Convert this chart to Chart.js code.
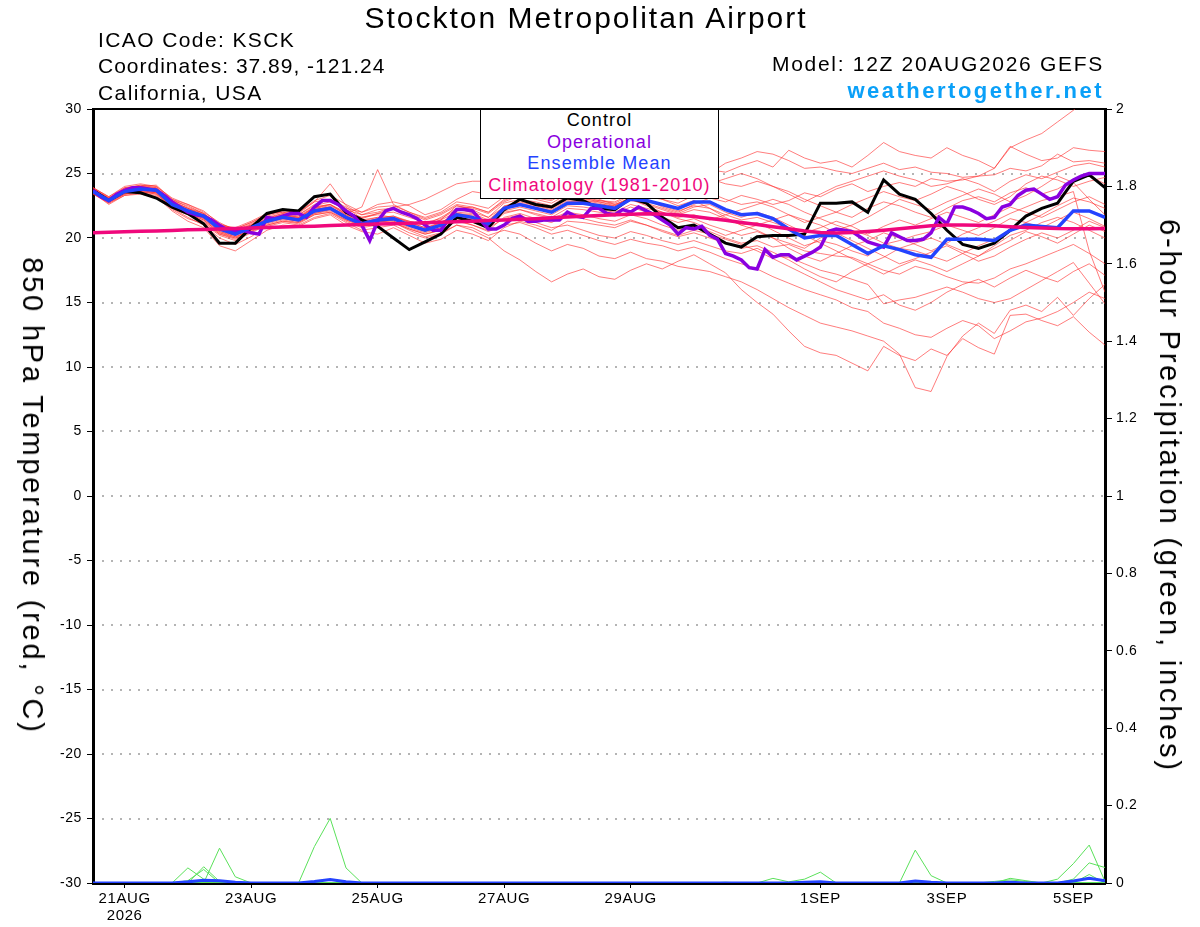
<!DOCTYPE html>
<html>
<head>
<meta charset="utf-8">
<script src="https://cdn.jsdelivr.net/npm/chart.js@4.4.1/dist/chart.umd.min.js"></script>
<style>
  body { margin: 0; background: #fff; }
  #wrap { position: relative; width: 1200px; height: 927px; font-family: "Liberation Sans", Arial, sans-serif; color: #000; overflow: hidden; }
  #c { position: absolute; left: 0; top: 0; }
  .t { position: absolute; white-space: nowrap; }
  #title { left: 586px; top: 2px; font-size: 30px; line-height: 32px; letter-spacing: 2px; transform: translateX(-50%); }
  .info { left: 98px; font-size: 21px; line-height: 24px; letter-spacing: 1.4px; }
  .rinfo { right: 96px; font-size: 21px; line-height: 24px; letter-spacing: 1.7px; text-align: right; }
  #site { color: #0aa0f8; font-weight: bold; font-size: 22px; letter-spacing: 2.5px; right: 96px; }
  #legend { position: absolute; left: 480px; top: 109px; width: 237px; height: 88px; background: #fff; border: 1px solid #000; font-size: 18px; line-height: 21.5px; letter-spacing: 1.1px; text-align: center; }
  .ytitle { font-size: 29px; line-height: 32px; letter-spacing: 2.8px; transform: translate(-50%, -50%) rotate(90deg); }
</style>
</head>
<body>
<div id="wrap">
  <canvas id="c" width="1200" height="927"></canvas>
  <div class="t" id="title">Stockton Metropolitan Airport</div>
  <div class="t info" style="top:28px">ICAO Code: KSCK</div>
  <div class="t info" style="top:54px; letter-spacing:1px">Coordinates: 37.89, -121.24</div>
  <div class="t info" style="top:81px">California, USA</div>
  <div class="t rinfo" style="top:52px">Model: 12Z 20AUG2026 GEFS</div>
  <div class="t" id="site" style="top:78px">weathertogether.net</div>
  <div id="legend">
    <div style="color:#000">Control</div>
    <div style="color:#8a00e0">Operational</div>
    <div style="color:#2443ff">Ensemble Mean</div>
    <div style="color:#f0087c">Climatology (1981-2010)</div>
  </div>
  <div class="t ytitle" style="left:33px; top:496px;">850 hPa Temperature (red, °C)</div>
  <div class="t ytitle" style="left:1170px; top:496px;">6-hour Precipitation (green, inches)</div>
</div>
<script>
// Forecast hours from 12Z 20AUG2026, 6-hourly (ensemble)
const hours = [0,6,12,18,24,30,36,42,48,54,60,66,72,78,84,90,96,102,108,114,120,126,132,138,144,150,156,162,168,174,180,186,192,198,204,210,216,222,228,234,240,246,252,258,264,270,276,282,288,294,300,306,312,318,324,330,336,342,348,354,360,366,372,378,384];
// 3-hourly hours (operational run)
const opHours = [0,3,6,9,12,15,18,21,24,27,30,33,36,39,42,45,48,51,54,57,60,63,66,69,72,75,78,81,84,87,90,93,96,99,102,105,108,111,114,117,120,123,126,129,132,135,138,141,144,147,150,153,156,159,162,165,168,171,174,177,180,183,186,189,192,195,198,201,204,207,210,213,216,219,222,225,228,231,234,237,240,243,246,249,252,255,258,261,264,267,270,273,276,279,282,285,288,291,294,297,300,303,306,309,312,315,318,321,324,327,330,333,336,339,342,345,348,351,354,357,360,363,366,369,372,375,378,381,384];

// Date ticks (hours) and their labels
const xTickHours = [12, 60, 108, 156, 204, 276, 324, 372];
const xTickLabels = [['21AUG','2026'], '23AUG', '25AUG', '27AUG', '29AUG', '1SEP', '3SEP', '5SEP'];

// 850 hPa temperature (deg C)
const controlTemp = [23.7,22.9,23.6,23.5,23.1,22.4,21.9,21.1,19.6,19.6,20.8,21.9,22.2,22.1,23.2,23.4,22.0,21.4,20.9,20.0,19.1,19.7,20.3,21.6,21.3,20.8,22.2,23.0,22.6,22.4,23.1,22.9,22.3,22.2,23.1,22.7,21.6,20.8,21.0,20.3,19.6,19.3,20.1,20.2,20.2,20.3,22.7,22.7,22.8,22.0,24.5,23.4,23.0,21.9,20.6,19.5,19.2,19.6,20.6,21.7,22.3,22.7,24.4,24.9,23.9];
const operationalTemp = [23.7,23.2,22.9,23.4,23.7,23.9,23.9,23.8,23.7,23.3,22.8,22.4,22.0,21.8,21.7,21.4,21.0,20.6,20.5,20.6,20.4,20.3,21.6,21.5,21.7,21.9,21.9,21.6,22.4,22.9,22.9,22.6,22.1,21.7,21.0,19.8,21.3,22.1,22.3,22.0,21.8,21.5,21.0,20.6,20.6,21.5,22.2,22.2,22.1,21.4,20.7,20.7,21.0,21.5,21.7,21.3,21.3,21.4,21.4,21.4,22.0,21.7,21.6,22.3,22.3,21.9,21.8,22.2,22.0,22.4,22.1,21.8,21.4,21.0,20.3,20.8,20.7,20.9,20.2,19.9,18.8,18.6,18.3,17.7,17.6,19.1,18.5,18.7,18.7,18.3,18.6,18.9,19.3,20.5,20.7,20.6,20.5,20.1,19.7,19.5,19.3,20.4,20.1,19.8,19.8,19.9,20.4,21.6,21.1,22.4,22.4,22.2,21.9,21.5,21.6,22.4,22.6,23.3,23.7,23.8,23.4,23.0,23.2,24.1,24.5,24.8,25.0,25.0,25.0];
const meanTemp = [23.6,22.9,23.6,23.8,23.7,22.6,22.1,21.7,20.7,20.3,20.8,21.3,21.6,21.4,22.1,22.3,21.6,21.1,21.4,21.5,21.0,20.6,21.0,21.8,21.6,21.1,22.3,22.6,22.3,22.0,22.7,22.7,22.5,22.3,23.0,22.9,22.6,22.3,22.8,22.8,22.2,21.8,21.9,21.5,20.7,20.0,20.2,20.2,19.5,18.8,19.4,19.1,18.7,18.5,19.9,19.9,19.9,19.8,20.6,21.0,20.9,20.8,22.1,22.1,21.6];
const climoTemp = [20.40,20.44,20.48,20.52,20.55,20.59,20.63,20.66,20.70,20.74,20.78,20.81,20.85,20.89,20.92,20.96,21.00,21.04,21.08,21.11,21.15,21.19,21.22,21.26,21.30,21.35,21.40,21.45,21.50,21.57,21.63,21.69,21.75,21.80,21.85,21.88,21.86,21.78,21.66,21.52,21.37,21.20,21.04,20.88,20.72,20.55,20.42,20.38,20.42,20.50,20.60,20.72,20.84,20.95,21.00,21.00,20.98,20.94,20.88,20.82,20.77,20.73,20.72,20.72,20.74];

// Ensemble member temperatures (deg C)
const memberTemps = [
 [23.8,23.0,23.9,24.0,24.1,23.0,22.6,22.0,21.2,20.6,21.0,21.8,22.2,21.9,22.8,23.0,22.4,21.5,21.9,22.3,21.8,21.0,21.4,22.5,22.2,21.6,22.4,23.0,22.8,22.5,23.3,23.1,22.8,22.5,23.2,23.0,22.4,22.0,22.6,23.1,22.8,23.3,23.0,22.6,22.9,23.5,23.2,23.8,24.2,23.6,24.0,24.3,24.0,24.6,24.4,24.5,24.8,25.4,27.0,27.6,28.1,29.0,29.9,31.0,32.0],
 [23.5,22.7,23.4,23.7,23.5,22.3,21.8,21.2,20.3,20.0,20.5,21.2,21.7,21.6,22.4,22.6,21.9,21.6,21.8,21.6,21.3,21.0,21.6,22.3,22.4,22.0,22.9,23.4,23.1,22.9,23.6,23.5,23.4,23.5,24.0,24.2,24.6,24.4,25.0,25.3,25.1,25.6,26.0,25.5,26.8,26.2,25.8,26.0,25.5,26.4,27.4,26.7,26.4,26.2,27.0,26.4,26.0,25.4,27.1,26.5,26.0,26.2,27.0,26.8,26.7],
 [23.9,23.1,23.8,24.1,23.9,22.9,22.5,21.9,21.0,20.8,21.3,21.9,22.0,21.8,22.6,23.0,22.3,22.0,22.6,22.8,22.5,21.8,22.2,23.0,23.6,23.4,24.0,24.5,24.4,24.2,24.5,24.6,24.3,24.0,24.6,24.4,24.9,25.3,25.5,25.0,25.8,26.2,26.7,26.5,26.0,25.4,25.5,25.2,25.0,25.4,25.8,25.3,25.5,25.1,25.0,24.7,24.8,24.9,25.4,25.2,25.6,26.5,25.9,26.0,25.8],
 [23.5,22.8,23.5,23.6,23.4,22.3,21.6,21.0,20.0,19.5,20.1,20.9,21.2,21.0,21.6,21.9,21.2,20.6,20.8,21.0,20.4,20.0,20.3,21.0,20.6,20.0,19.0,18.3,17.4,16.6,17.2,17.6,17.0,16.8,17.5,18.0,17.6,18.2,18.7,18.0,17.3,16.0,15.0,14.1,12.8,11.6,11.1,10.9,10.3,9.7,11.6,10.9,10.5,11.4,10.9,12.2,11.5,11.0,14.0,14.1,13.6,13.2,13.9,12.7,11.7],
 [23.7,23.1,23.7,23.9,23.6,22.5,21.9,21.4,20.4,20.1,20.6,21.1,21.4,21.2,21.8,22.0,21.3,20.8,21.0,21.2,20.6,20.1,20.4,21.0,20.8,20.2,20.6,20.3,19.6,19.0,19.5,19.2,18.6,18.4,18.9,18.4,18.2,17.8,17.6,17.4,17.0,16.6,16.0,15.3,14.6,14.0,13.4,13.1,12.8,12.4,12.0,11.0,8.4,8.1,10.8,12.4,13.4,12.6,14.4,14.8,14.3,15.4,14.0,15.3,16.4],
 [23.6,22.9,23.6,23.8,23.8,22.7,22.2,21.8,20.9,20.5,20.9,21.5,21.9,21.6,22.3,22.6,21.8,21.4,21.6,21.3,20.9,20.5,20.8,21.5,21.2,20.8,21.5,21.8,21.2,20.8,21.0,20.6,20.2,20.0,20.5,20.2,19.8,19.5,19.8,19.4,19.0,18.8,19.2,18.6,18.5,18.0,17.5,17.2,16.8,16.4,14.9,15.2,15.4,15.8,16.2,15.8,15.3,15.0,15.3,16.0,16.7,17.4,18.1,16.5,14.9],
 [23.4,22.8,23.4,23.6,23.5,22.4,22.0,21.5,20.5,20.2,20.7,21.2,21.5,21.3,22.0,22.3,21.7,21.3,21.2,21.4,21.0,20.7,21.2,21.9,21.5,21.0,22.0,22.2,21.8,21.5,22.0,21.8,21.5,21.3,21.8,21.5,21.0,20.6,20.9,20.5,20.0,19.6,19.8,19.3,19.5,19.0,18.8,18.6,18.5,18.0,17.5,17.2,17.8,17.5,17.0,16.6,16.5,16.9,17.6,18.0,18.5,19.0,19.5,18.8,18.0],
 [23.7,23.0,23.7,23.9,23.6,22.6,22.0,21.6,20.6,20.2,20.8,21.4,21.7,21.5,22.2,22.4,21.6,21.2,21.5,21.6,21.2,20.8,21.2,21.9,21.8,21.3,22.4,22.8,22.5,22.2,22.9,22.8,22.6,22.5,23.0,22.6,22.2,21.8,22.2,22.0,21.5,21.0,21.2,20.6,20.0,19.4,19.8,19.5,19.0,18.6,19.5,19.8,20.2,20.5,21.0,20.6,20.2,20.8,21.5,21.2,20.8,21.4,22.0,21.5,20.9],
 [23.8,23.1,23.8,24.0,23.8,22.8,22.3,21.9,20.9,20.5,21.0,21.6,21.9,21.7,22.4,22.6,22.0,21.6,21.9,22.0,21.6,21.2,21.5,22.2,22.0,21.6,22.7,23.0,22.7,22.4,23.1,23.0,22.9,22.8,23.4,23.2,23.0,22.7,23.3,23.5,23.0,22.6,22.8,22.4,21.8,21.2,21.6,22.0,21.6,22.3,22.8,22.5,22.0,21.6,22.3,22.9,23.2,22.8,23.5,23.9,23.4,23.8,24.5,24.8,24.2],
 [23.5,22.6,23.3,23.5,23.3,22.2,21.5,21.1,20.2,19.8,20.4,21.0,21.3,21.1,21.8,22.0,21.4,21.0,21.3,21.2,20.7,20.3,20.6,21.4,21.0,20.5,21.0,21.2,20.8,20.3,20.6,20.2,19.8,19.5,19.9,19.6,19.4,19.0,19.3,18.9,18.4,18.0,17.6,17.0,16.5,16.0,15.6,15.2,14.6,14.3,13.4,13.0,12.5,12.3,13.0,13.6,13.2,12.2,12.8,13.5,13.8,14.3,15.0,15.8,15.3],
 [23.9,23.2,24.0,24.2,24.0,23.1,22.6,22.1,21.1,20.7,21.2,21.8,22.1,22.0,22.9,23.3,22.6,22.0,22.4,22.5,22.0,21.5,21.9,22.6,22.4,22.0,23.0,23.4,23.2,23.0,23.8,23.9,23.6,23.3,23.8,23.5,23.0,22.5,22.9,22.3,21.6,21.0,20.6,20.0,19.6,19.2,20.0,20.6,21.0,21.6,22.3,23.0,22.6,22.2,22.8,23.3,23.8,23.4,22.8,23.3,24.0,24.8,24.3,23.0,21.8],
 [23.6,22.8,23.5,23.7,23.5,22.5,22.0,21.5,20.5,20.1,20.6,21.2,21.5,21.3,21.9,22.2,21.5,21.0,21.3,21.3,20.8,20.4,20.8,21.6,21.3,20.9,21.9,22.2,21.9,21.6,22.3,22.2,22.0,21.9,22.4,22.0,21.6,21.2,21.5,21.0,20.6,20.2,20.5,20.0,19.2,18.6,18.2,18.8,19.4,19.8,20.4,20.0,19.5,19.0,19.6,20.3,20.8,21.3,21.9,22.4,22.9,23.2,23.6,19.0,15.8],
 [23.8,23.0,23.7,23.9,23.8,22.7,22.1,21.6,20.8,20.4,20.9,21.5,21.8,21.6,22.3,22.5,21.9,22.4,25.3,22.6,22.0,21.6,22.0,22.8,22.6,22.3,23.2,23.5,23.3,23.1,23.7,23.4,23.2,23.0,23.6,23.9,24.5,24.8,24.3,24.6,24.2,24.0,24.4,24.0,23.4,22.8,23.4,24.0,24.4,24.8,25.2,24.8,24.5,24.0,24.2,24.6,24.2,23.6,24.4,24.9,24.6,25.1,25.6,25.8,25.5],
 [23.7,23.0,23.8,24.0,23.9,22.9,22.3,21.8,21.0,20.6,21.1,21.7,22.0,21.8,22.5,22.8,22.2,21.8,22.0,22.4,22.6,23.0,23.6,24.2,24.4,24.4,24.2,23.6,23.8,23.4,23.0,23.3,23.0,22.6,23.0,22.5,22.0,21.6,21.8,21.4,21.8,22.2,22.6,23.0,22.6,22.0,21.5,21.0,20.6,20.2,19.6,19.2,19.0,18.6,18.2,18.8,19.4,19.9,20.5,21.2,21.8,22.5,23.1,22.8,22.3],
 [23.4,22.7,23.3,23.4,23.2,22.1,21.3,20.8,19.4,19.0,19.8,20.6,21.0,20.9,21.5,21.8,21.0,20.5,20.3,20.8,20.2,19.6,19.9,20.6,20.3,19.8,20.8,21.3,21.0,20.6,21.3,21.2,21.0,20.8,21.3,21.0,20.5,20.1,20.4,20.0,19.6,19.2,19.4,18.9,18.3,17.6,17.0,16.6,17.4,18.0,18.5,19.2,19.6,20.0,19.5,19.0,18.6,19.4,20.2,20.6,21.2,21.6,21.2,20.6,20.0],
 [23.9,23.2,23.9,24.1,24.0,23.0,22.4,21.9,21.0,20.7,21.2,21.8,22.2,22.0,22.8,24.2,22.5,21.8,22.2,22.3,21.9,21.4,21.8,22.5,22.3,21.9,22.8,23.3,23.0,22.7,23.4,23.2,22.9,22.7,23.3,23.6,23.3,23.0,23.6,24.2,24.6,25.0,24.6,24.0,23.6,23.0,22.5,22.0,22.6,23.1,23.6,23.2,22.9,23.4,24.0,23.6,23.0,22.6,23.2,24.2,24.8,24.5,24.0,24.4,24.7],
 [23.5,22.8,23.4,23.6,23.4,22.4,21.8,21.3,20.3,19.9,20.5,21.0,21.3,21.2,21.9,22.1,21.4,20.9,21.1,21.2,20.7,20.3,20.6,21.3,21.0,20.6,21.6,21.9,21.5,21.2,21.8,21.5,21.2,21.0,21.4,21.0,20.6,20.2,20.6,20.3,19.9,19.5,19.0,18.4,17.8,17.2,16.6,16.0,15.6,15.2,15.6,14.8,14.4,15.0,15.8,16.4,16.8,16.2,16.9,17.5,17.0,16.6,17.4,18.0,17.1],
 [23.6,22.9,23.5,23.8,23.7,22.6,22.2,21.7,20.7,20.4,20.9,21.4,21.7,21.4,22.2,22.4,21.7,21.2,21.5,21.7,21.2,20.8,21.1,21.9,21.7,21.2,22.5,22.7,22.4,22.1,22.8,22.9,22.7,22.4,22.9,22.7,22.3,21.9,22.4,22.6,22.0,21.6,22.0,21.6,21.0,20.4,20.8,21.3,20.9,20.3,20.9,21.4,21.0,21.5,22.0,21.6,21.2,21.8,22.4,22.0,21.6,22.2,22.8,23.2,22.6],
 [23.7,22.9,23.6,23.7,23.6,22.5,21.9,21.4,20.4,20.0,20.7,21.3,21.6,21.3,22.0,22.2,21.5,21.1,21.4,21.5,21.1,20.7,21.0,21.7,21.5,21.0,22.1,22.4,22.1,21.8,22.5,22.4,22.2,22.0,22.6,22.3,22.0,21.5,21.2,20.7,20.2,20.6,21.0,21.4,21.8,21.4,21.0,20.4,19.8,19.2,18.6,18.0,18.4,18.9,19.4,18.8,18.2,18.6,19.3,19.9,20.4,20.0,20.6,21.3,20.8],
 [23.6,23.0,23.7,23.8,23.7,22.8,22.3,21.7,20.8,20.5,21.0,21.4,21.8,21.5,22.2,22.4,21.8,21.3,21.6,21.7,21.3,21.0,21.4,22.0,21.9,21.4,22.4,22.9,22.5,22.3,23.0,22.9,22.8,22.6,23.1,22.9,22.5,22.1,22.5,22.3,21.8,21.4,21.6,21.2,20.8,20.2,19.6,19.0,18.4,17.8,17.2,17.8,18.3,17.9,17.4,18.0,18.6,19.2,19.8,20.5,20.1,19.6,20.3,21.0,20.5]
];

// 6-hour precipitation (inches) as [forecast hour, value]
const memberPrecip = [
 [[0,0],[30,0],[36,0.039],[42,0.01],[48,0],[384,0]],
 [[0,0],[36,0],[42,0.042],[48,0.004],[54,0],[384,0]],
 [[0,0],[42,0],[48,0.09],[54,0.016],[60,0],[384,0]],
 [[0,0],[30,0],[36,0.006],[42,0.035],[48,0],[384,0]],
 [[0,0],[78,0],[84,0.094],[90,0.167],[96,0.039],[102,0],[384,0]],
 [[0,0],[252,0],[258,0.012],[264,0.003],[270,0.01],[276,0.028],[282,0],[306,0],[312,0.085],[318,0.019],[324,0],[342,0],[348,0.012],[354,0.006],[360,0],[384,0]],
 [[0,0],[234,0],[240,0.002],[246,0],[336,0],[342,0.004],[348,0.008],[354,0.004],[360,0],[366,0.01],[372,0.05],[378,0.098],[384,0.004]],
 [[0,0],[366,0],[372,0.01],[378,0.052],[384,0.04]],
 [[0,0],[372,0],[378,0.022],[384,0]]
];
const meanPrecip = [[0,0],[30,0],[36,0.003],[42,0.007],[48,0.006],[54,0.002],[60,0],[78,0],[84,0.004],[90,0.009],[96,0.003],[102,0],[264,0],[270,0.002],[276,0.003],[282,0],[306,0],[312,0.005],[318,0.002],[324,0],[342,0],[348,0.002],[354,0],[366,0],[372,0.005],[378,0.012],[384,0.006]];

// ---------- build datasets ----------
const toPts = (hh, arr) => hh.map((h, i) => ({ x: h, y: arr[i] }));
const pairPts = arr => arr.map(p => ({ x: p[0], y: p[1] }));
const datasets = [];
memberTemps.forEach((m, k) => datasets.push({
  label: 'Member ' + (k + 1), data: toPts(hours, m), xAxisID: 'x', yAxisID: 'y',
  borderColor: 'rgba(255,45,45,0.62)', borderWidth: 1, pointRadius: 0, order: 20
}));
memberPrecip.forEach((m, k) => datasets.push({
  label: 'Precip member ' + (k + 1), data: pairPts(m), xAxisID: 'x', yAxisID: 'yP',
  borderColor: 'rgb(90,225,90)', borderWidth: 1, pointRadius: 0, order: 15
}));
datasets.push({ label: 'Mean precip', data: pairPts(meanPrecip), xAxisID: 'x', yAxisID: 'yP',
  borderColor: '#2443ff', borderWidth: 3, pointRadius: 0, order: 14 });
datasets.push({ label: 'Control', data: toPts(hours, controlTemp), xAxisID: 'x', yAxisID: 'y',
  borderColor: '#000', borderWidth: 3, pointRadius: 0, order: 5 });
datasets.push({ label: 'Operational', data: toPts(opHours, operationalTemp), xAxisID: 'x', yAxisID: 'y',
  borderColor: '#8a00e0', borderWidth: 3.5, pointRadius: 0, order: 4 });
datasets.push({ label: 'Ensemble Mean', data: toPts(hours, meanTemp), xAxisID: 'x', yAxisID: 'y',
  borderColor: '#2443ff', borderWidth: 3.5, pointRadius: 0, order: 3 });
datasets.push({ label: 'Climatology (1981-2010)', data: toPts(hours, climoTemp), xAxisID: 'x', yAxisID: 'y',
  borderColor: '#f0087c', borderWidth: 3.5, pointRadius: 0, order: 2 });

const yFont = { family: 'Liberation Sans', size: 14 };
const xFont = { family: 'Liberation Sans', size: 15, lineHeight: 1.1 };

// wider letter spacing on canvas text, like the reference
const spacingPlugin = {
  id: 'spacing',
  beforeLayout(chart) { chart.ctx.letterSpacing = '0.6px'; },
  beforeDraw(chart) { chart.ctx.letterSpacing = '0.6px'; }
};

new Chart(document.getElementById('c'), {
  type: 'line',
  data: { datasets },
  plugins: [spacingPlugin],
  options: {
    responsive: false,
    animation: false,
    devicePixelRatio: 1,
    layout: { padding: { top: 109, left: 0, right: 0, bottom: 0 } },
    plugins: { legend: { display: false }, tooltip: { enabled: false }, title: { display: false } },
    elements: { line: { tension: 0, borderCapStyle: 'butt', borderJoinStyle: 'miter' } },
    scales: {
      x: {
        type: 'linear', position: 'bottom', min: 0, max: 384,
        afterBuildTicks: s => { s.ticks = xTickHours.map(v => ({ value: v })); },
        afterFit: s => { s.height = 44; },
        ticks: { font: xFont, color: '#000', padding: 3, maxRotation: 0, autoSkip: false,
          callback: (v, i) => xTickLabels[i] },
        grid: { drawOnChartArea: false, drawTicks: true, tickLength: 5, color: '#000', lineWidth: 1 },
        border: { display: true, color: '#000', width: 3 }
      },
      xTop: {
        type: 'linear', position: 'top', min: 0, max: 384,
        afterFit: s => { s.height = 0; },
        ticks: { display: false },
        grid: { display: false },
        border: { display: true, color: '#000', width: 2 }
      },
      yGrid: {
        type: 'linear', position: 'left', min: -30, max: 30, weight: 0,
        afterFit: s => { s.width = 0; },
        ticks: { display: false, stepSize: 5 },
        grid: { drawOnChartArea: true, drawTicks: false, color: 'rgb(180,180,180)', lineWidth: 2 },
        border: { display: false, dash: [2, 7] }
      },
      y: {
        type: 'linear', position: 'left', min: -30, max: 30, weight: 1,
        afterFit: s => { s.width = 93; },
        ticks: { stepSize: 5, font: yFont, color: '#000', padding: 5, callback: v => String(v) },
        grid: { drawOnChartArea: false, drawTicks: true, tickLength: 6, color: '#000', lineWidth: 1 },
        border: { display: true, color: '#000', width: 3 }
      },
      yP: {
        type: 'linear', position: 'right', min: 0, max: 2,
        afterFit: s => { s.width = 95; },
        ticks: { stepSize: 0.2, font: yFont, color: '#000', padding: 4,
          callback: v => String(Math.round(v * 10) / 10) },
        grid: { drawOnChartArea: false, drawTicks: true, tickLength: 7, color: '#000', lineWidth: 1 },
        border: { display: true, color: '#000', width: 3 }
      }
    }
  }
});
</script>
</body>
</html>
